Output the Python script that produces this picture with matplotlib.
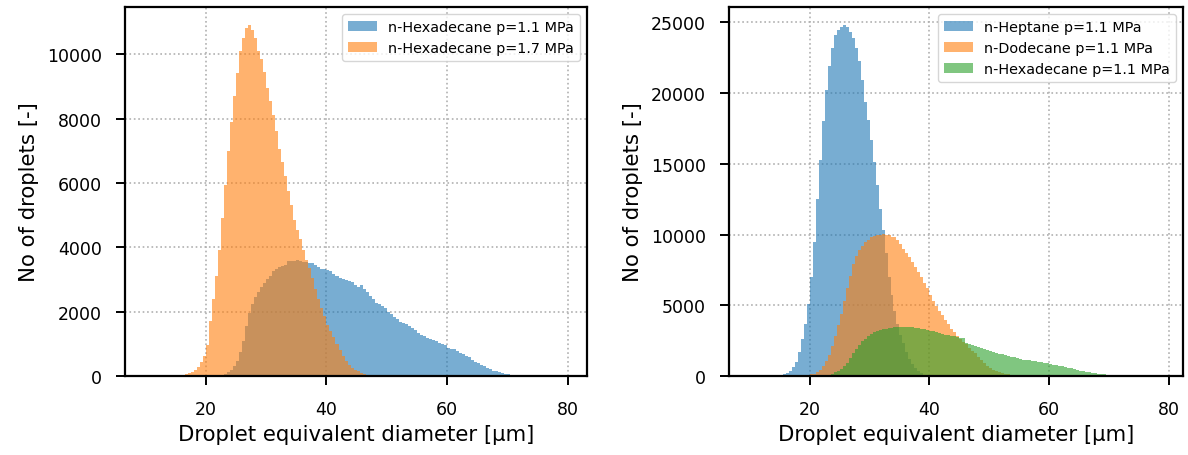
import numpy as np
import matplotlib
matplotlib.use("Agg")
import matplotlib.pyplot as plt

# histogram counts, 0.5 um bins, each list starts at the given diameter
bin_width = 0.5

hex11_left_start = 21.0
hex11_left = [10, 20, 30, 40, 60, 110, 180, 300, 480, 760, 1100, 1550, 1950, 2250,
              2450, 2620, 2780, 2900, 3000, 3100, 3250, 3320, 3380, 3420, 3450, 3560,
              3580, 3570, 3590, 3560, 3540, 3530, 3510, 3500, 3450, 3380, 3330, 3310,
              3300, 3260, 3180, 3110, 3060, 3000, 2970, 2950, 2920, 2840, 2780, 2830,
              2700, 2600, 2480, 2400, 2260, 2230, 2180, 2120, 2000, 1930, 1830, 1760,
              1690, 1640, 1610, 1560, 1480, 1420, 1340, 1280, 1230, 1190, 1160, 1130,
              1080, 1040, 990, 950, 870, 850, 840, 790, 730, 680, 620, 580, 510, 450,
              400, 350, 300, 250, 210, 170, 140, 110, 85, 65, 50, 40, 30, 20, 15, 8]

hex17_start = 15.0
hex17 = [10, 20, 40, 60, 90, 130, 200, 280, 420, 620, 950, 1700, 2400, 3100, 3900,
         4900, 5950, 7000, 7900, 8700, 9400, 10100, 10500, 10800, 10920, 10750, 10500,
         10100, 9850, 9450, 8950, 8550, 8100, 7600, 7050, 6650, 6200, 5750, 5300, 4850,
         4550, 4250, 3900, 3600, 3350, 3050, 2700, 2400, 2100, 1850, 1600, 1400, 1200,
         1000, 800, 620, 470, 350, 260, 190, 140, 100, 70, 45, 25, 10]

hept_start = 15.0
hept = [50, 120, 220, 380, 620, 1000, 1700, 2600, 3700, 5100, 7000, 9500, 12500,
        15300, 18000, 20200, 21900, 23200, 24100, 24500, 24700, 24850, 24700, 24350,
        23900, 23200, 22300, 20900, 19400, 18100, 16700, 15100, 13500, 11800, 10300,
        8700, 7000, 5700, 4600, 3700, 2900, 2300, 1700, 1200, 850, 550, 350, 200, 100, 50]

dodec_start = 18.0
dodec = [10, 20, 40, 70, 110, 170, 280, 440, 700, 1050, 1500, 2100, 2800, 3600, 4400,
         5300, 6200, 7100, 7900, 8500, 8900, 9200, 9450, 9650, 9800, 9900, 9950, 10000,
         10050, 10000, 9950, 9850, 9800, 9650, 9300, 9000, 8700, 8400, 8050, 7700, 7350,
         7000, 6600, 6250, 5750, 5300, 4950, 4600, 4300, 3950, 3650, 3350, 3100, 2800,
         2600, 2400, 2250, 2000, 1800, 1600, 1350, 1150, 950, 700, 600, 450, 380, 300,
         230, 170, 120, 80, 50, 25]

hex11_right_start = 22.0
hex11_right = [20, 40, 80, 150, 250, 380, 520, 700, 950, 1250, 1600, 1900, 2200, 2450,
               2650, 2800, 2950, 3080, 3180, 3250, 3300, 3350, 3380, 3420, 3470, 3500,
               3480, 3500, 3490, 3460, 3430, 3400, 3360, 3320, 3290, 3240, 3200, 3150,
               3080, 3020, 2960, 2920, 2880, 2850, 2800, 2760, 2720, 2680, 2350, 2280,
               2200, 2130, 2060, 1990, 1920, 1850, 1780, 1710, 1640, 1590, 1530, 1480,
               1430, 1370, 1310, 1250, 1200, 1160, 1130, 1100, 1060, 1030, 1000, 960,
               920, 890, 850, 810, 780, 740, 690, 640, 590, 540, 480, 430, 380, 340, 300,
               270, 230, 200, 170, 140, 115, 95, 75, 55, 40, 25, 15, 8]

left_series = [(hex11_left_start, hex11_left, 'n-Hexadecane p=1.1 MPa', 'tab:blue'),
               (hex17_start, hex17, 'n-Hexadecane p=1.7 MPa', 'tab:orange')]
right_series = [(hept_start, hept, 'n-Heptane p=1.1 MPa', 'tab:blue'),
                (dodec_start, dodec, 'n-Dodecane p=1.1 MPa', 'tab:orange'),
                (hex11_right_start, hex11_right, 'n-Hexadecane p=1.1 MPa', 'tab:green')]

edges = np.arange(10.0, 80.0 + bin_width / 2, bin_width)

plt.rcParams['font.family'] = 'DejaVu Sans'
plt.rcParams['xtick.labelsize'] = 12.5
plt.rcParams['ytick.labelsize'] = 12.5
plt.rcParams['axes.labelsize'] = 15.3

fig = plt.figure(figsize=(11.88, 4.56), dpi=100)
ax1 = fig.add_axes([125 / 1188, 1 - 377 / 456, 462 / 1188, 369 / 456])
ax2 = fig.add_axes([729 / 1188, 1 - 377 / 456, 454 / 1188, 369 / 456])


def draw_panel(ax, series, xlim):
    for start, counts, label, color in series:
        centers = start + bin_width * np.arange(len(counts)) + bin_width / 2
        ax.hist(centers, bins=edges, weights=counts, histtype='stepfilled',
                alpha=0.6, color=color, linewidth=0, label=label)
    ax.set_xlim(*xlim)
    ax.set_xticks([20, 40, 60, 80])
    ax.grid(True, linestyle=':', color='#b0b0b0', linewidth=1.2)
    ax.set_axisbelow(True)
    for s in ax.spines.values():
        s.set_linewidth(1.6)
        s.set_color('black')
    ax.tick_params(direction='out', length=6.5, width=1.4, colors='black')
    ax.tick_params(axis='x', pad=11)
    ax.tick_params(axis='y', pad=10)
    ax.set_xlabel('Droplet equivalent diameter [µm]', labelpad=4)
    ax.set_ylabel('No of droplets [-]', labelpad=6)
    ax.legend(loc='upper right', fontsize=10.4, framealpha=0.8)


draw_panel(ax1, left_series, (6.6, 83.2))
draw_panel(ax2, right_series, (6.5, 82.4))

fig.savefig('out.png', dpi=100)
